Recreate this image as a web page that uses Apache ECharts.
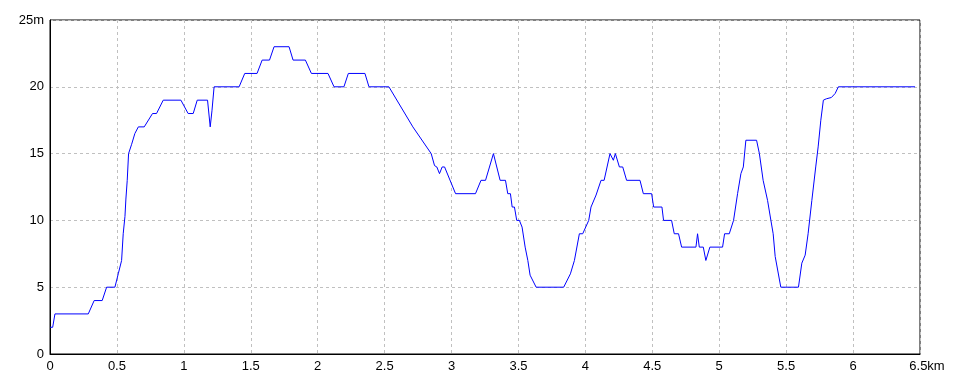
<!DOCTYPE html>
<html>
<head>
<meta charset="utf-8">
<script src="https://cdn.jsdelivr.net/npm/echarts@6/dist/echarts.min.js"></script>
<style>html,body{margin:0;padding:0;background:#fff}#c{width:960px;height:384px}</style>
</head>
<body>
<div id="c"></div>
<script>
const distanceKm = [0, 0.02, 0.037, 0.286, 0.33, 0.39, 0.423, 0.485, 0.51, 0.535,
  0.547, 0.56, 0.567, 0.577, 0.587, 0.61, 0.634, 0.66, 0.704, 0.766,
  0.796, 0.846, 0.978, 1.032, 1.07, 1.1, 1.177, 1.197, 1.21, 1.226,
  1.413, 1.455, 1.547, 1.585, 1.64, 1.674, 1.786, 1.816, 1.908, 1.953,
  2.077, 2.122, 2.196, 2.229, 2.353, 2.383, 2.532, 2.711, 2.848, 2.873,
  2.89, 2.91, 2.93, 2.948, 3.03, 3.179, 3.22, 3.254, 3.313, 3.363,
  3.403, 3.42, 3.44, 3.453, 3.47, 3.487, 3.507, 3.527, 3.55, 3.57,
  3.587, 3.632, 3.838, 3.888, 3.918, 3.955, 3.98, 4.025, 4.042, 4.08,
  4.117, 4.14, 4.184, 4.209, 4.224, 4.254, 4.279, 4.308, 4.408, 4.433,
  4.495, 4.51, 4.572, 4.584, 4.644, 4.664, 4.696, 4.719, 4.826, 4.838,
  4.851, 4.881, 4.9, 4.93, 5.025, 5.04, 5.075, 5.107, 5.137, 5.162,
  5.18, 5.199, 5.279, 5.3, 5.328, 5.361, 5.386, 5.403, 5.418, 5.46,
  5.592, 5.617, 5.642, 5.664, 5.692, 5.721, 5.739, 5.759, 5.778, 5.8,
  5.838, 5.866, 5.89, 6.463];
const elevationM = [2, 2, 3, 3, 4, 4, 5, 5, 6, 7,
  9, 10.3, 11.6, 13, 15, 15.7, 16.5, 17, 17, 18,
  18, 19, 19, 18, 18, 19, 19, 17, 18.2, 20,
  20, 21, 21, 22, 22, 23, 23, 22, 22, 21,
  21, 20, 20, 21, 21, 20, 20, 17, 15, 14.1,
  14, 13.5, 14, 14, 12, 12, 13, 13, 15, 13,
  13, 12, 12, 11, 11, 10, 10, 9.5, 8, 7,
  5.9, 5, 5, 6, 7, 9, 9, 10, 11, 11.9,
  13, 13, 15, 14.5, 15, 14, 14, 13, 13, 12,
  12, 11, 11, 10, 10, 9, 9, 8, 8, 9,
  8, 8, 7, 8, 8, 9, 9, 10, 12, 13.5,
  14, 16, 16, 15, 13, 11.5, 10, 9, 7.3, 5,
  5, 6.8, 7.4, 9, 11.5, 14, 15.5, 17.5, 19, 19.1,
  19.2, 19.5, 20, 20];
const xMax = 6.5, xStep = 0.5, xUnit = 'km';
const yMax = 25, yStep = 5, yUnit = 'm';

const chart = echarts.init(document.getElementById('c'), null, {renderer: 'canvas'});
const font = {fontFamily: 'Liberation Sans, Arial, sans-serif', fontSize: 13, color: '#000'};
chart.setOption({
  animation: false,
  grid: {left: 50, top: 20, right: 40, bottom: 30, show: true, borderColor: '#000', borderWidth: 1, backgroundColor: 'transparent'},
  xAxis: {
    type: 'value', min: 0, max: xMax, interval: xStep,
    axisLine: {show: true, lineStyle: {color: '#000', width: 1}},
    axisTick: {show: false},
    splitLine: {show: true, lineStyle: {color: '#c0c0c0', type: [3, 3], width: 1}},
    axisLabel: Object.assign({}, font, {
      margin: 6,
      showMaxLabel: true,
      formatter: v => v === xMax ? '{u|' + v + xUnit + '}' : String(v),
      rich: {u: Object.assign({}, font, {padding: [0, 0, 0, 14]})}
    })
  },
  yAxis: {
    type: 'value', min: 0, max: yMax, interval: yStep,
    axisLine: {show: true, lineStyle: {color: '#000', width: 1}},
    axisTick: {show: false},
    splitLine: {show: true, lineStyle: {color: '#c0c0c0', type: [3, 3], width: 1}},
    axisLabel: Object.assign({}, font, {
      margin: 6,
      showMaxLabel: true,
      formatter: v => v === yMax ? v + yUnit : String(v)
    })
  },
  series: [{
    type: 'line',
    data: distanceKm.map((d, i) => [d, elevationM[i]]),
    showSymbol: false,
    symbol: 'none',
    lineStyle: {color: '#0000ff', width: 1},
    itemStyle: {color: '#0000ff'}
  }]
});
</script>
</body>
</html>
